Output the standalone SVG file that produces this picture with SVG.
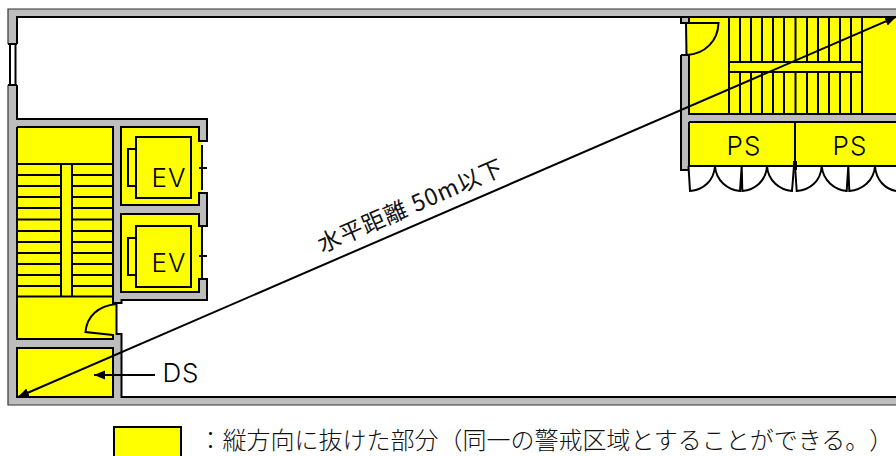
<svg xmlns="http://www.w3.org/2000/svg" width="896" height="456" viewBox="0 0 896 456">
<style>
.y{fill:#ffff00;stroke:none}
.l{fill:none;stroke:#000;stroke-width:2}
.o{fill:none;stroke:#333;stroke-width:1.2}
.t{font-family:"Noto Sans CJK JP","Liberation Sans",sans-serif;fill:#111;text-spacing-trim:space-all}
.e{font-family:"Inter","Liberation Sans","Noto Sans CJK JP",sans-serif;fill:#000;font-size:26px;font-weight:300;text-anchor:middle;letter-spacing:1px}
</style>
<defs>
<marker id="a" markerUnits="userSpaceOnUse" markerWidth="12" markerHeight="10" refX="11" refY="5" orient="auto-start-reverse"><path d="M0,0.5L11,5L0,9.5Z" fill="#000"/></marker>
</defs>
<rect width="896" height="456" fill="#fff"/>
<g id="walls">
<path d="M8,9H900V405H8Z" fill="#bdbdbd"/>
<path d="M17,17H681V23H686V55H681V170H689V166H900V397H121.5V334H116.5V303H121.5V300H207V279H202V226H207V193H202V141H207V119H17Z" fill="#fff"/>
<rect x="6" y="44" width="11" height="41" fill="#fff"/>
</g>
<g id="window"><rect x="10" y="44" width="5.500" height="41" fill="#fff" stroke="#000" stroke-width="2"/></g>
<g id="stair-left">
<path class="y" d="M17,127H113V303H116.500V335H113V339H17Z"/>
<path class="l" d="M17,164H113M17,175H61M72,175H113M17,186H61M72,186H113M17,197H61M72,197H113M17,208H61M72,208H113M17,219.500H61M72,219.500H113M17,231H61M72,231H113M17,242H61M72,242H113M17,253H61M72,253H113M17,264H61M72,264H113M17,275H61M72,275H113M17,286H61M72,286H113M17,296.500H113M61,164V296.500M72,164V296.500"/>
<path class="l" d="M116.500,304C98,306 87,316 85.500,332L113,335"/>
</g>
<g id="ds-room"><rect class="y" x="17" y="348" width="96" height="49"/><path class="l" d="M17,348H113V397H17Z"/></g>
<g id="ev-1">
<path class="y" d="M121,127H199V141H202V194H199V205H121Z"/>
<rect x="136" y="137" width="55" height="61" fill="#ffff00" stroke="#000" stroke-width="2"/>
<rect x="128" y="149" width="8" height="37" fill="#ffff00" stroke="#000" stroke-width="2"/>
<path class="l" d="M202,145V190M199,168H207"/>
<text class="e" x="169" y="186.500">EV</text>
</g>
<g id="ev-2">
<path class="y" d="M121,214H199V226H202V279H199V292H121Z"/>
<rect x="136" y="226" width="55" height="61" fill="#ffff00" stroke="#000" stroke-width="2"/>
<rect x="128" y="238" width="8" height="37" fill="#ffff00" stroke="#000" stroke-width="2"/>
<path class="l" d="M202,226V278M199,256H207"/>
<text class="e" x="169" y="272">EV</text>
</g>
<g id="stair-right">
<path class="y" d="M689,17H896V114H689V23H686V55H689Z"/>
<path class="l" d="M729,17V114M740,17V114M751,17V114M762,17V114M773,17V114M784,17V114M795.500,17V114M807,17V114M818,17V114M829,17V114M840,17V114M851,17V114M862,17V114"/>
<rect x="729" y="62" width="133" height="10" fill="#ffff00" stroke="#000" stroke-width="2"/>
<path class="l" d="M686,23H718.500C718,41 705,54 686.500,55L686,23"/>
</g>
<g id="ps-1">
<rect class="y" x="689" y="122" width="106" height="44"/>
<text class="e" x="744" y="155">PS</text>
<path class="l" d="M688.500,166L690,191C703,190 714,181 715,166C716,181 728,190 740,191L741.700,166L742.300,191C755,190 766,181 767,166C768,181 780,190 792,191L794,166"/>
</g>
<g id="ps-2">
<rect class="y" x="795" y="122" width="101" height="44"/>
<text class="e" x="850" y="155">PS</text>
<path class="l" d="M795,166L796.700,191C810,190 821,181 821.700,166C823,181 835,190 846.700,191L848.300,166L849.300,191C862,190 874,181 875,166C876,180 885,189 896,191"/>
</g>
<g id="wall-lines">
<path class="o" d="M8,44V9H900M8,85V405H900"/>
<path class="l" d="M8,44H17M8,85H17M17,44V17H900M681,17V23H689M681,55H689M681,55V170H689M689,17V23M689,55V114H900M689,122H900M689,122V166H900M795,122V166M17,85V119H207V141H199V127H121V205H199V193H207V226H199V214H121V292H199V279H207V300H121.500V303H116.500V334H121.500V397H900M17,127H113V303H116.500M113,334V339H17V127"/>
<path d="M795,161V170" stroke="#000" stroke-width="4" fill="none"/>
</g>
<g id="connectors">
<path class="l" d="M18,397L896,17" marker-start="url(#a)" marker-end="url(#a)"/>
<path class="l" d="M155,375H94" marker-end="url(#a)"/>
</g>
<g id="labels">
<text class="e" x="181" y="382">DS</text>
<text class="t" font-size="23" transform="translate(322,253) rotate(-23.400)" textLength="199">水平距離 50m以下</text>
</g>
<g id="legend">
<rect x="114" y="427" width="67" height="32" fill="#ffff00" stroke="#000" stroke-width="2"/>
<text class="t" x="198.500" y="449" font-size="24" font-weight="300">：縦方向に抜けた部分（同一の警戒区域とすることができる。）</text>
</g>
</svg>
